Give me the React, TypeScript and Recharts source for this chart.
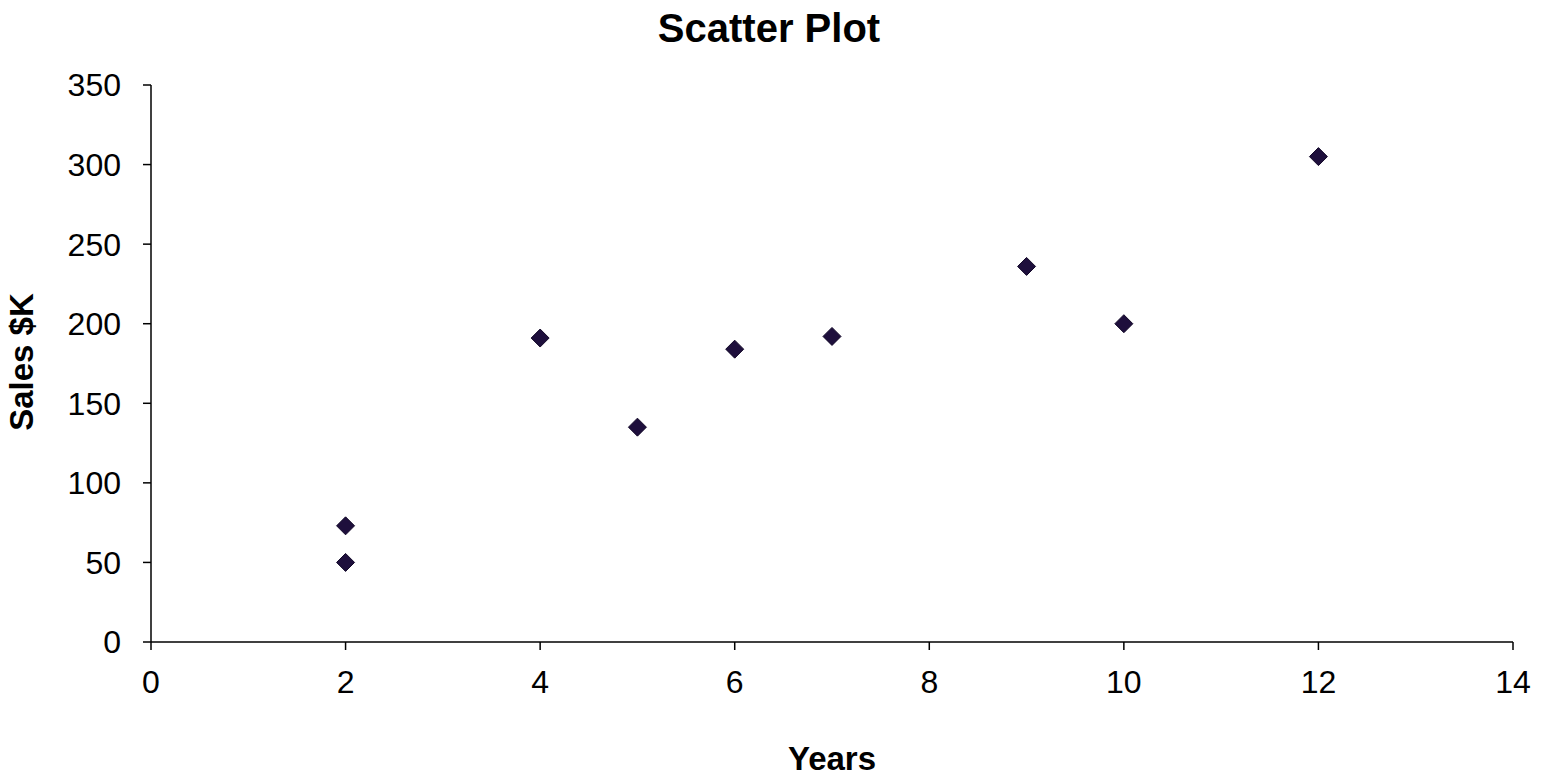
import React from "react";
import { ScatterChart, Scatter, XAxis, YAxis } from "recharts";

const years = [2, 2, 4, 5, 6, 7, 9, 10, 12];
const sales = [73, 50, 191, 135, 184, 192, 236, 200, 305];
const xTicks = [0, 2, 4, 6, 8, 10, 12, 14];
const yTicks = [0, 50, 100, 150, 200, 250, 300, 350];

const points = years.map((x, i) => ({ x, y: sales[i] }));

const FONT = '"Liberation Sans", Arial, sans-serif';

function Diamond(props: { cx?: number; cy?: number }) {
  const { cx = 0, cy = 0 } = props;
  const r = 9;
  return (
    <polygon
      points={`${cx},${cy - r} ${cx + r},${cy} ${cx},${cy + r} ${cx - r},${cy}`}
      fill="#1E0F3C"
      stroke="#120828"
      strokeWidth={1}
    />
  );
}

export default function App() {
  return (
    <div
      style={{
        position: "absolute",
        left: 0,
        top: 0,
        width: 1542,
        height: 782,
        background: "#fff",
        fontFamily: FONT,
      }}
    >
      <div
        style={{
          position: "absolute",
          left: 0,
          width: 1542,
          top: 6,
          textAlign: "center",
          fontSize: 40,
          fontWeight: "bold",
          paddingLeft: 0,
        }}
      >
        <span style={{ position: "absolute", left: 769, transform: "translateX(-50%)", whiteSpace: "nowrap" }}>
          Scatter Plot
        </span>
      </div>
      <div
        style={{
          position: "absolute",
          left: 832,
          top: 740,
          transform: "translateX(-50%)",
          fontSize: 33,
          fontWeight: "bold",
          whiteSpace: "nowrap",
        }}
      >
        Years
      </div>
      <div
        style={{
          position: "absolute",
          left: 22,
          top: 362,
          transform: "translate(-50%, -50%) rotate(-90deg)",
          fontSize: 33,
          fontWeight: "bold",
          whiteSpace: "nowrap",
        }}
      >
        Sales $K
      </div>
      <ScatterChart
        width={1542}
        height={782}
        margin={{ top: 85, right: 29, bottom: 80, left: 0 }}
      >
        <XAxis
          type="number"
          dataKey="x"
          domain={[0, 14]}
          ticks={xTicks}
          height={60}
          axisLine={{ stroke: "#000", strokeWidth: 1.5 }}
          tickLine={{ stroke: "#000", strokeWidth: 1.5 }}
          tickSize={8}
          tickMargin={20}
          tick={{ fill: "#000", fontSize: 32, fontFamily: FONT }}
          allowDataOverflow
        />
        <YAxis
          type="number"
          dataKey="y"
          domain={[0, 350]}
          ticks={yTicks}
          width={151}
          axisLine={{ stroke: "#000", strokeWidth: 1.5 }}
          tickLine={{ stroke: "#000", strokeWidth: 1.5 }}
          tickSize={8}
          tickMargin={22}
          tick={{ fill: "#000", fontSize: 32, fontFamily: FONT }}
          allowDataOverflow
        />
        <Scatter data={points} shape={<Diamond />} isAnimationActive={false} />
      </ScatterChart>
    </div>
  );
}
